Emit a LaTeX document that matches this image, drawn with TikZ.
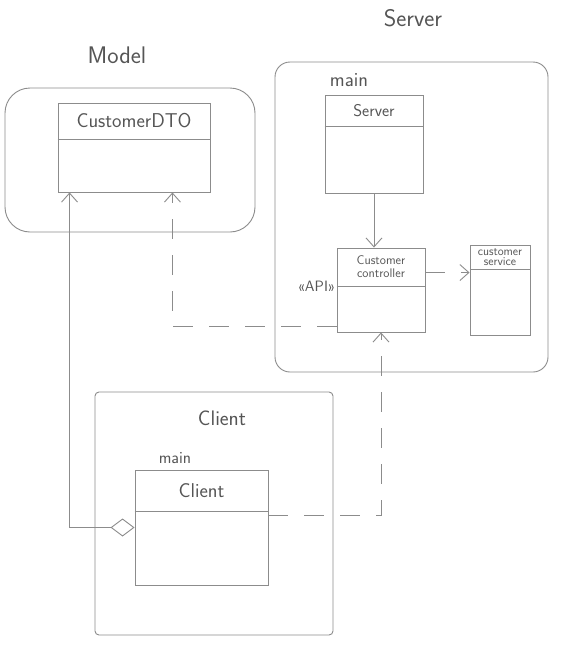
\documentclass[tikz,border=0pt]{standalone}
\usepackage{fontspec}
\usepackage{tikz}
\usetikzlibrary{arrows.meta, positioning}
\definecolor{pencil}{HTML}{8C8C8C}
\definecolor{pencilText}{HTML}{555555}

\begin{document}
\begin{tikzpicture}[
    x=1pt, y=-1pt,
    every node/.style={text=pencilText, font=\sffamily},
    pkg/.style={rectangle, draw=pencil, line width=0.9pt, rounded corners=#1},
    pkg/.default=15pt,
    cls/.style={rectangle, draw=pencil, line width=0.9pt},
    divider/.style={draw=pencil, line width=0.9pt},
    arrow/.style={draw=pencil, line width=0.9pt, -{Straight Barb[length=9pt, width=16pt]}},
    dep/.style={arrow, dash pattern=on 20pt off 16pt},
    aggr/.style={draw=pencil, line width=0.9pt, {Diamond[open, length=24pt, width=18pt]}-{Straight Barb[length=9pt, width=16pt]}},
]
    \fill[white] (0,0) rectangle (576,659);
    \useasboundingbox (0,0) rectangle (576,659);

    % packages
    \node[pkg=25pt, minimum width=250, minimum height=144] (modelPkg) at (130,160) {};
    \node[pkg=15pt, minimum width=273, minimum height=310] (serverPkg) at (411.5,217) {};
    \node[pkg=4pt, minimum width=238, minimum height=243] (clientPkg) at (214,513.5) {};

    \node[font=\sffamily\fontsize{24}{26}\selectfont] (modelLbl) at (117,55) {Model};
    \node[font=\sffamily\fontsize{24}{26}\selectfont] (serverLbl) at (413,18) {Server};
    \node[font=\sffamily\fontsize{20}{22}\selectfont] (serverMain) at (349,80) {main};
    \node[font=\sffamily\fontsize{21}{23}\selectfont] (clientLbl) at (222,418) {Client};
    \node[font=\sffamily\fontsize{17}{19}\selectfont] (clientMain) at (175,458) {main};

    % classes
    \node[cls, minimum width=152, minimum height=89] (dto) at (134,147.5) {};
    \draw[divider] ([yshift=-37pt]dto.north west) -- ([yshift=-37pt]dto.north east);
    \node[font=\sffamily\fontsize{20}{22}\selectfont] (dtoName) at ([yshift=-18.5pt]dto.north) {CustomerDTO};

    \node[cls, minimum width=98, minimum height=98] (srv) at (374,144) {};
    \draw[divider] ([yshift=-32pt]srv.north west) -- ([yshift=-32pt]srv.north east);
    \node[font=\sffamily\fontsize{17}{19}\selectfont] (srvName) at ([yshift=-16pt]srv.north) {Server};

    \node[cls, minimum width=88, minimum height=84] (ctrl) at (381,290) {};
    \draw[divider] ([yshift=-39pt]ctrl.north west) -- ([yshift=-39pt]ctrl.north east);
    \node[font=\sffamily\fontsize{12.5}{13}\selectfont, align=center] (ctrlName) at ([yshift=-19.5pt]ctrl.north) {Customer\\controller};
    \node[anchor=east, inner sep=1pt, font=\sffamily\fontsize{15}{17}\selectfont] (api) at ([yshift=-39pt]ctrl.north west) {«API»};

    \node[cls, minimum width=60, minimum height=90] (svc) at (500,290) {};
    \draw[divider] ([yshift=-25pt]svc.north west) -- ([yshift=-25pt]svc.north east);
    \node[font=\sffamily\fontsize{12}{10.5}\selectfont, align=center] (svcName) at ([yshift=-12.5pt]svc.north) {customer\\service};

    \node[cls, minimum width=133, minimum height=115] (client) at (201.5,527.5) {};
    \draw[divider] ([yshift=-42pt]client.north west) -- ([yshift=-42pt]client.north east);
    \node[font=\sffamily\fontsize{20}{22}\selectfont] (clientName) at ([yshift=-21pt]client.north) {Client};

    % connectors
    \coordinate (ctrlOut) at ([yshift=-25pt]ctrl.north east);
    \coordinate (ctrlUse) at ([yshift=6pt]ctrl.south west);
    \coordinate (dtoUse) at ([xshift=-38pt]dto.south east);
    \coordinate (dtoAgg) at ([xshift=12pt]dto.south west);
    \coordinate (clientUse) at ([yshift=12.5pt]client.east);

    \draw[arrow] (srv.south) -- (srv.south |- ctrl.north);
    \draw[dep] (ctrlOut) -- (ctrlOut -| svc.west);
    \draw[dep] (ctrlUse) -| (dtoUse);
    \draw[dep] (clientUse) -| (ctrl.south);
    \draw[aggr] (client.west) -| (dtoAgg);
\end{tikzpicture}
\end{document}
